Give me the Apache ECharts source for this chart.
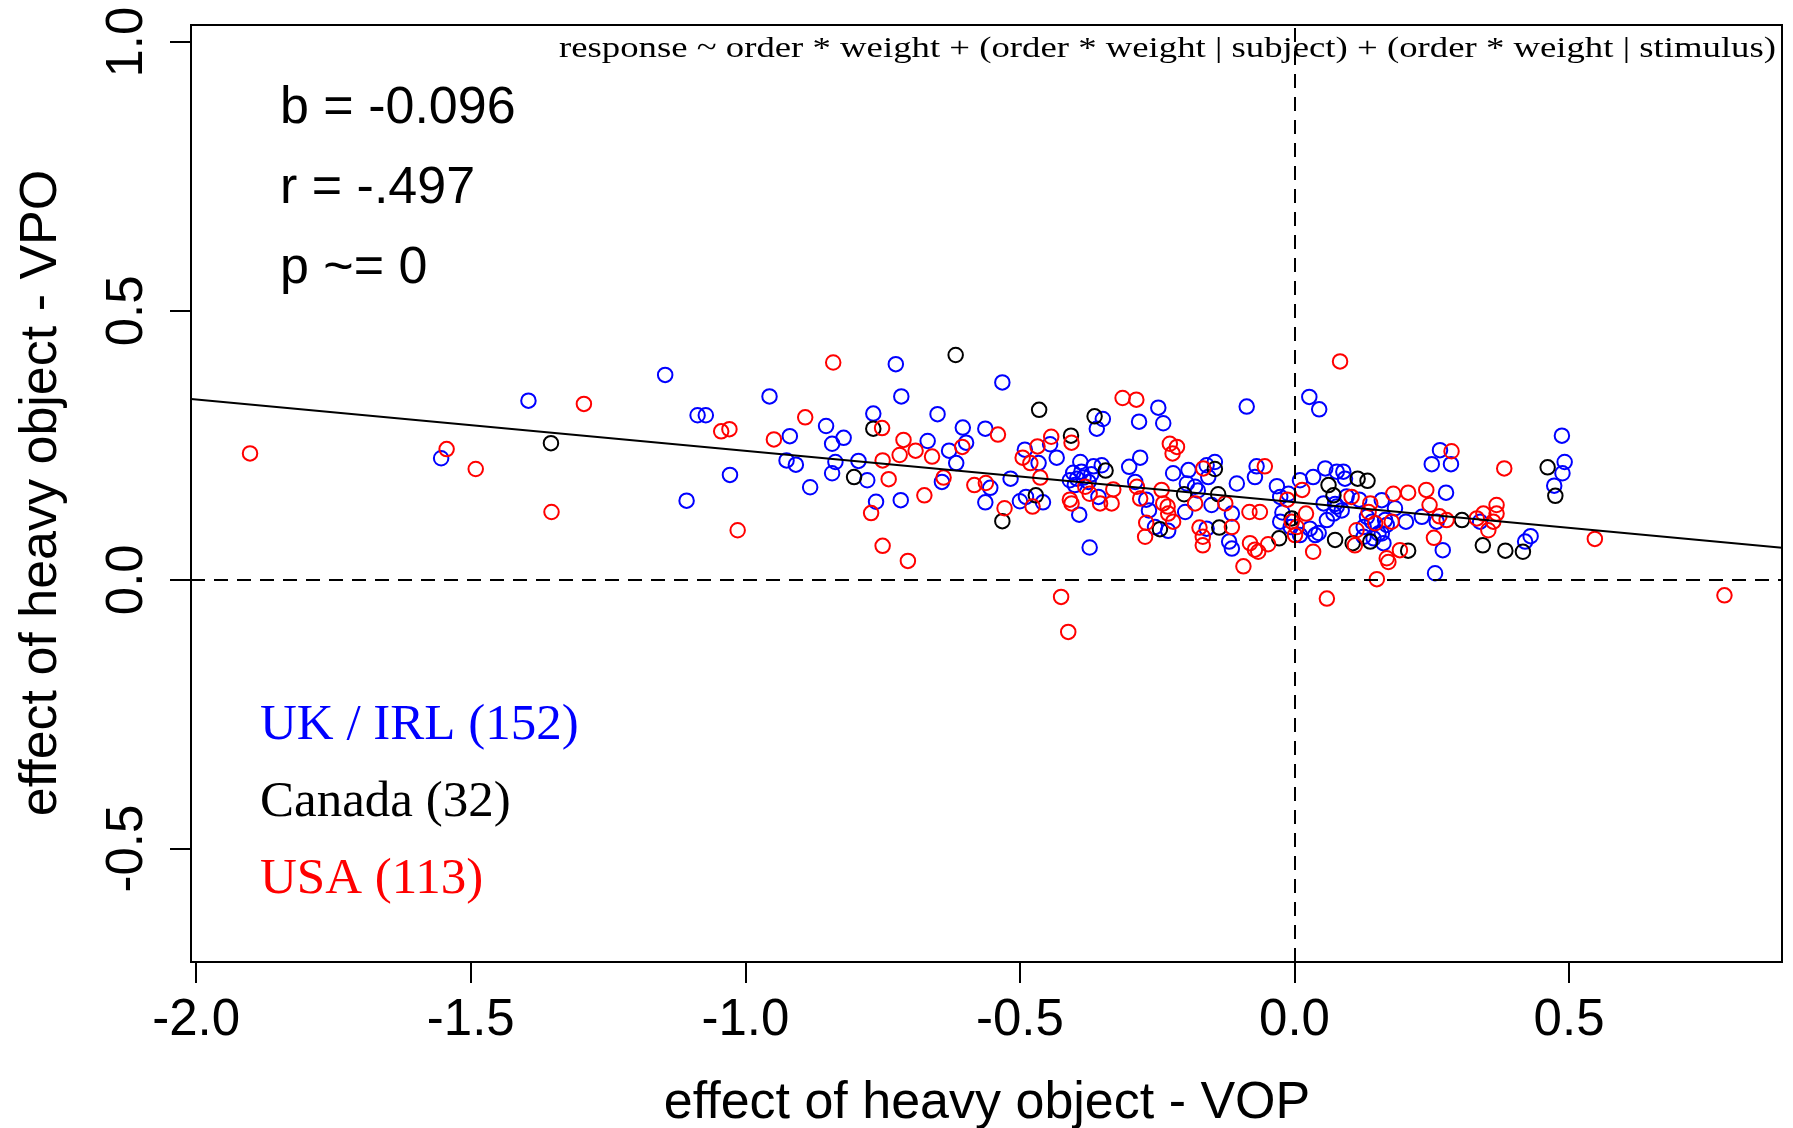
<!DOCTYPE html>
<html><head><meta charset="utf-8">
<script src="https://cdn.jsdelivr.net/npm/echarts@6/dist/echarts.min.js"></script>
<style>html,body{margin:0;padding:0;background:#fff}#c{width:1793px;height:1128px}</style>
</head><body><div id="c"></div>
<script>
// ---- data ----
const groupNames = ['UK / IRL (152)', 'Canada (32)', 'USA (113)'];
const groupColors = ['#0000FF', '#000000', '#FF0000'];
const xTicks = [-2.0, -1.5, -1.0, -0.5, 0.0, 0.5];
const yTicks = [-0.5, 0.0, 0.5, 1.0];
const xRange = [-2.0095, 0.8878];
const yRange = [-0.711, 1.0318];
const fitSlope = -0.0955;
const fitIntercept = 0.1441;
const statLines = ['b = -0.096', 'r = -.497', 'p ~= 0'];
const formulaText = 'response ~ order * weight + (order * weight | subject) + (order * weight | stimulus)';
const xTitle = 'effect of heavy object - VOP';
const yTitle = 'effect of heavy object - VPO';

const ukIrl = [[-1.395,0.333],[-1.554,0.226],[-1.146,0.381],[-1.087,0.306],[-1.072,0.306],[-1.028,0.195],[-1.107,0.147],[-0.956,0.341],[-0.919,0.267],[-0.925,0.222],[-0.908,0.214],[-0.882,0.172],[-0.853,0.286],[-0.821,0.264],[-0.842,0.253],[-0.836,0.219],[-0.842,0.198],[-0.794,0.221],[-0.778,0.185],[-0.767,0.309],[-0.762,0.145],[-0.726,0.401],[-0.716,0.341],[-0.717,0.148],[-0.668,0.258],[-0.650,0.308],[-0.629,0.240],[-0.616,0.217],[-0.642,0.182],[-0.604,0.283],[-0.598,0.255],[-0.554,0.171],[-0.563,0.144],[-0.563,0.281],[-0.532,0.367],[-0.517,0.188],[-0.500,0.146],[-0.491,0.242],[-0.445,0.252],[-0.433,0.227],[-0.466,0.217],[-0.489,0.154],[-0.458,0.144],[-0.349,0.299],[-0.360,0.281],[-0.248,0.320],[-0.283,0.294],[-0.239,0.291],[-0.390,0.219],[-0.403,0.199],[-0.409,0.185],[-0.396,0.188],[-0.384,0.190],[-0.375,0.182],[-0.392,0.121],[-0.373,0.060],[-0.366,0.211],[-0.351,0.213],[-0.357,0.154],[-0.301,0.210],[-0.281,0.227],[-0.290,0.182],[-0.270,0.149],[-0.265,0.129],[-0.254,0.098],[-0.230,0.091],[-0.221,0.198],[-0.193,0.204],[-0.196,0.179],[-0.199,0.126],[-0.181,0.173],[-0.160,0.095],[-0.160,0.213],[-0.087,0.322],[0.027,0.340],[0.045,0.317],[-0.145,0.219],[-0.157,0.191],[-0.151,0.139],[-0.114,0.123],[-0.119,0.071],[-0.114,0.058],[-0.105,0.179],[-0.072,0.191],[-0.069,0.211],[-0.032,0.174],[-0.026,0.154],[-0.011,0.160],[0.010,0.185],[-0.026,0.108],[0.010,0.083],[0.028,0.095],[0.038,0.083],[0.044,0.087],[0.034,0.191],[0.056,0.207],[0.053,0.142],[0.059,0.111],[0.071,0.123],[0.077,0.201],[0.089,0.201],[0.092,0.188],[0.077,0.136],[0.086,0.129],[0.118,0.149],[0.132,0.117],[0.141,0.108],[0.126,0.098],[0.126,0.080],[0.144,0.077],[0.159,0.148],[0.165,0.111],[0.159,0.086],[0.162,0.068],[0.183,0.133],[0.203,0.108],[0.232,0.117],[0.265,0.241],[0.250,0.215],[0.285,0.215],[0.276,0.162],[0.259,0.108],[0.270,0.055],[0.256,0.012],[0.338,0.108],[0.420,0.071],[0.430,0.081],[0.487,0.268],[0.492,0.219],[0.488,0.198],[0.473,0.175],[-0.400,0.176],[-0.388,0.201],[-0.370,0.196],[-0.022,0.125],[-0.007,0.098],[0.074,0.141],[0.095,0.155],[0.168,0.102],[0.153,0.086],[-0.176,0.166]];

const canada = [[-1.354,0.254],[-0.802,0.191],[-0.767,0.281],[-0.617,0.418],[-0.532,0.109],[-0.465,0.316],[-0.471,0.157],[-0.407,0.268],[-0.364,0.304],[-0.344,0.203],[-0.245,0.094],[-0.201,0.159],[-0.145,0.206],[-0.139,0.159],[-0.137,0.097],[-0.028,0.077],[-0.005,0.114],[0.062,0.176],[0.071,0.157],[0.074,0.074],[0.115,0.188],[0.133,0.184],[0.106,0.068],[0.138,0.071],[0.207,0.054],[0.305,0.111],[0.343,0.064],[0.384,0.054],[0.416,0.052],[0.461,0.209],[0.475,0.156]];

const usa = [[-1.902,0.235],[-1.544,0.243],[-1.491,0.206],[-1.353,0.126],[-1.294,0.327],[-1.044,0.276],[-1.029,0.280],[-1.014,0.092],[-0.948,0.261],[-0.891,0.302],[-0.840,0.404],[-0.751,0.282],[-0.771,0.124],[-0.750,0.222],[-0.739,0.187],[-0.750,0.063],[-0.704,0.035],[-0.712,0.260],[-0.719,0.232],[-0.690,0.240],[-0.674,0.157],[-0.660,0.229],[-0.639,0.190],[-0.605,0.247],[-0.583,0.176],[-0.562,0.180],[-0.540,0.270],[-0.528,0.133],[-0.495,0.227],[-0.481,0.217],[-0.443,0.266],[-0.468,0.248],[-0.463,0.190],[-0.477,0.136],[-0.425,-0.032],[-0.412,-0.097],[-0.406,0.255],[-0.313,0.338],[-0.288,0.335],[-0.227,0.253],[-0.214,0.247],[-0.222,0.235],[-0.381,0.173],[-0.373,0.160],[-0.409,0.149],[-0.406,0.142],[-0.354,0.142],[-0.333,0.142],[-0.330,0.168],[-0.287,0.173],[-0.281,0.151],[-0.270,0.106],[-0.272,0.080],[-0.242,0.167],[-0.239,0.142],[-0.231,0.136],[-0.230,0.123],[-0.221,0.108],[-0.181,0.142],[-0.173,0.097],[-0.167,0.064],[-0.166,0.207],[0.083,0.406],[-0.126,0.142],[-0.114,0.098],[-0.081,0.068],[-0.072,0.056],[-0.066,0.052],[-0.093,0.025],[-0.048,0.066],[-0.082,0.126],[-0.063,0.126],[-0.054,0.211],[-0.013,0.149],[0.014,0.167],[-0.005,0.108],[0.004,0.098],[0.021,0.123],[0.001,0.083],[0.034,0.052],[0.059,-0.035],[0.104,0.154],[0.138,0.142],[0.135,0.126],[0.113,0.092],[0.147,0.105],[0.110,0.064],[0.180,0.160],[0.177,0.108],[0.168,0.040],[0.171,0.033],[0.192,0.055],[0.150,0.001],[0.207,0.162],[0.240,0.167],[0.246,0.139],[0.264,0.118],[0.277,0.111],[0.254,0.078],[0.286,0.239],[0.332,0.114],[0.344,0.123],[0.353,0.092],[0.362,0.108],[0.368,0.123],[0.368,0.139],[0.382,0.207],[0.547,0.076],[0.783,-0.029],[-0.167,0.080]];

// ---- chart ----
const SANS = '"Liberation Sans", Arial, sans-serif';
const SERIF = '"Liberation Serif", "Times New Roman", serif';
const fitLine = [[xRange[0], fitIntercept + fitSlope * xRange[0]], [xRange[1], fitIntercept + fitSlope * xRange[1]]];
const groups = [ukIrl, canada, usa];

const chart = echarts.init(document.getElementById('c'), null, {renderer: 'canvas'});
const tickStyle = {color: '#000', width: 2};

const series = groups.map((d, i) => ({
  type: 'scatter', name: groupNames[i], data: d, symbol: 'circle', symbolSize: 14.5,
  itemStyle: {color: 'rgba(0,0,0,0)', borderColor: groupColors[i], borderWidth: 2, opacity: 1},
  emphasis: {disabled: true}, z: 3
}));
series.push({
  type: 'line', data: fitLine, symbol: 'none', silent: true, z: 4,
  lineStyle: {color: '#000', width: 2},
  markLine: {
    silent: true, symbol: ['none', 'none'], label: {show: false},
    lineStyle: {color: '#000', width: 2, type: [14, 9]},
    data: [{xAxis: 0}, {yAxis: 0}]
  }
});

const gText = (text, x, y, font, color, extra) => Object.assign({
  type: 'text', x: x, y: y, silent: true, z: 10,
  style: {text: text, font: font, fill: color, align: 'left', verticalAlign: 'middle', textAlign: 'left', textVerticalAlign: 'middle'}
}, extra || {});

const graphics = [];
statLines.forEach((t, i) => graphics.push(gText(t, 280, [109, 189, 269][i], '52px ' + SANS, '#000')));
groupNames.forEach((t, i) => graphics.push(gText(t, 260, [726, 803, 880][i], '51px ' + SERIF, groupColors[i])));
const formula = gText(formulaText, 1776, 49, '30px ' + SERIF, '#000', {scaleX: 1.225});
formula.style.align = 'right'; formula.style.textAlign = 'right';
graphics.push(formula);
const xt = gText(xTitle, 987, 1104, '52px ' + SANS, '#000');
xt.style.align = 'center'; xt.style.textAlign = 'center';
graphics.push(xt);
const yt = gText(yTitle, 42, 493, '52px ' + SANS, '#000', {rotation: Math.PI / 2});
yt.style.align = 'center'; yt.style.textAlign = 'center';
graphics.push(yt);

chart.setOption({
  animation: false,
  backgroundColor: '#fff',
  grid: {left: 191, top: 25, right: 11, bottom: 166, show: true, borderColor: '#000', borderWidth: 2, backgroundColor: 'rgba(0,0,0,0)'},
  xAxis: {
    type: 'value', min: xRange[0], max: xRange[1],
    splitLine: {show: false}, axisLine: {show: false, onZero: false},
    axisTick: {show: true, inside: false, length: 21, lineStyle: tickStyle, customValues: xTicks},
    axisLabel: {customValues: xTicks, formatter: v => v.toFixed(1), fontFamily: SANS, fontSize: 51, color: '#000', margin: 33}
  },
  yAxis: {
    type: 'value', min: yRange[0], max: yRange[1],
    splitLine: {show: false}, axisLine: {show: false, onZero: false},
    axisTick: {show: true, inside: false, length: 21, lineStyle: tickStyle, customValues: yTicks},
    axisLabel: {customValues: yTicks, formatter: v => v.toFixed(1), fontFamily: SANS, fontSize: 51, color: '#000', margin: 38, rotate: 90}
  },
  series: series,
  graphic: graphics
});
</script>
</body></html>
